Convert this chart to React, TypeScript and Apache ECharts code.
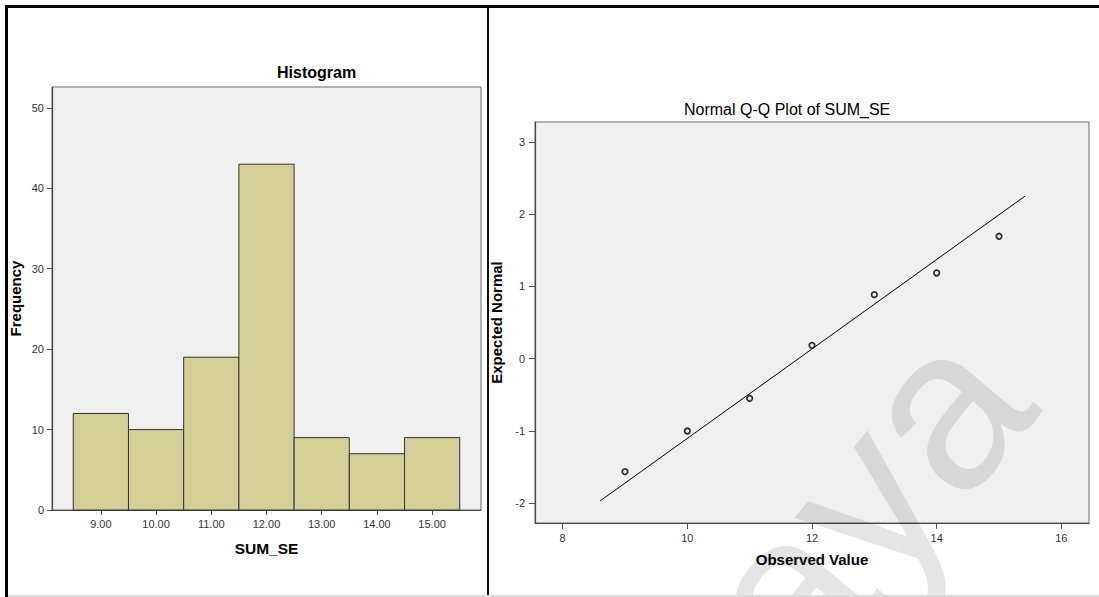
import React, { useEffect, useRef } from "react";
import * as echarts from "echarts";

// ---- Histogram data ----
const binCenters = [9, 10, 11, 12, 13, 14, 15];
const frequencies = [12, 10, 19, 43, 9, 7, 9];
const binWidth = 1;
const histXTicks = [9, 10, 11, 12, 13, 14, 15];
const histYTicks = [0, 10, 20, 30, 40, 50];

// ---- Normal Q-Q data ----
const observedValues = [9, 10, 11, 12, 13, 14, 15];
const expectedNormal = [-1.565, -1.003, -0.55, 0.184, 0.886, 1.186, 1.694];
const refLineX = [8.6, 15.42];
const refLineY = [-1.972, 2.252];
const qqXTicks = [8, 10, 12, 14, 16];
const qqYTicks = [-2, -1, 0, 1, 2, 3];

const FONT = '"Liberation Sans", Arial, sans-serif';

export default function App() {
  const ref = useRef<HTMLDivElement>(null);

  useEffect(() => {
    if (!ref.current) return;
    const chart = echarts.init(ref.current, undefined, { renderer: "svg" });

    const axisCommon = {
      type: "value" as const,
      axisLine: { show: true, onZero: false, lineStyle: { color: "#4a4a4a", width: 1.2 } },
      splitLine: { show: false },
      nameLocation: "middle" as const,
      nameTextStyle: { fontFamily: FONT, fontWeight: "bold", fontSize: 15, color: "#000" },
    };
    const tick = (vals: number[], len: number) => ({
      show: true,
      length: len,
      customValues: vals,
      lineStyle: { color: "#4a4a4a", width: 1 },
    });
    const label = (vals: number[], margin: number, fmt?: (v: number) => string) => ({
      show: true,
      customValues: vals,
      margin,
      fontFamily: FONT,
      fontSize: 11,
      color: "#333",
      formatter: fmt ? (v: number) => fmt(v) : undefined,
    });

    const option: any = {
      animation: false,
      backgroundColor: "#fff",
      title: [
        {
          text: "Histogram",
          left: 277,
          top: 64,
          padding: 0,
          textStyle: { fontFamily: FONT, fontWeight: "bold", fontSize: 16, color: "#000" },
        },
        {
          text: "Normal Q-Q Plot of SUM_SE",
          left: 684,
          top: 101,
          padding: 0,
          textStyle: { fontFamily: FONT, fontWeight: "normal", fontSize: 16, color: "#000" },
        },
      ],
      grid: [
        {
          left: 52,
          top: 87,
          width: 429,
          height: 423,
          show: true,
          backgroundColor: "#f0f0f0",
          borderColor: "#6a6a6a",
          borderWidth: 1,
        },
        {
          left: 535,
          top: 122,
          width: 554,
          height: 401,
          show: true,
          backgroundColor: "#f0f0f0",
          borderColor: "#6a6a6a",
          borderWidth: 1,
        },
      ],
      xAxis: [
        {
          ...axisCommon,
          gridIndex: 0,
          min: 8.115,
          max: 15.885,
          axisTick: tick(histXTicks, 5),
          axisLabel: label(histXTicks, 8, (v) => v.toFixed(2)),
          name: "SUM_SE",
          nameGap: 30,
          nameTextStyle: { ...axisCommon.nameTextStyle, fontSize: 15.5 },
        },
        {
          ...axisCommon,
          gridIndex: 1,
          min: 7.556,
          max: 16.444,
          axisTick: tick(qqXTicks, 6),
          axisLabel: label(qqXTicks, 9),
          name: "Observed Value",
          nameGap: 29,
        },
      ],
      yAxis: [
        {
          ...axisCommon,
          gridIndex: 0,
          min: 0,
          max: 52.6,
          axisTick: tick(histYTicks, 5),
          axisLabel: label(histYTicks, 8),
          name: "Frequency",
          nameRotate: 90,
          nameGap: 29,
        },
        {
          ...axisCommon,
          gridIndex: 1,
          min: -2.277,
          max: 3.277,
          axisTick: tick(qqYTicks, 6),
          axisLabel: label(qqYTicks, 10),
          name: "Expected Normal",
          nameRotate: 90,
          nameGap: 27,
        },
      ],
      graphic: [
        {
          type: "text",
          x: 744,
          y: 643,
          rotation: (50 * Math.PI) / 180,
          z: 1,
          silent: true,
          style: {
            text: "Malaya",
            fontFamily: FONT,
            fontSize: 230,
            fill: "rgba(0,0,0,0.1)",
            align: "center",
            verticalAlign: "middle",
            textAlign: "center",
            textVerticalAlign: "middle",
          },
        },
        // outer frame
        { type: "rect", z: 100, shape: { x: 5, y: 5, width: 1094, height: 3 }, style: { fill: "#000" } },
        { type: "rect", z: 100, shape: { x: 5, y: 5, width: 3, height: 592 }, style: { fill: "#000" } },
        { type: "rect", z: 100, shape: { x: 487, y: 8, width: 2, height: 589 }, style: { fill: "#111" } },
        { type: "rect", z: 100, shape: { x: 8, y: 595, width: 1091, height: 2 }, style: { fill: "#dcdcdc" } },
      ],
      series: [
        {
          type: "custom",
          xAxisIndex: 0,
          yAxisIndex: 0,
          data: binCenters.map((c, i) => [c, frequencies[i]]),
          renderItem: (params: any, api: any) => {
            const c = api.value(0);
            const f = api.value(1);
            const p0 = api.coord([c - binWidth / 2, f]);
            const p1 = api.coord([c + binWidth / 2, 0]);
            return {
              type: "rect",
              shape: { x: p0[0], y: p0[1], width: p1[0] - p0[0], height: p1[1] - p0[1] },
              style: { fill: "#d4cf97", stroke: "#333", lineWidth: 1 },
            };
          },
        },
        {
          type: "line",
          xAxisIndex: 1,
          yAxisIndex: 1,
          data: refLineX.map((x, i) => [x, refLineY[i]]),
          symbol: "none",
          lineStyle: { color: "#000", width: 1 },
          z: 3,
        },
        {
          type: "scatter",
          xAxisIndex: 1,
          yAxisIndex: 1,
          data: observedValues.map((x, i) => [x, expectedNormal[i]]),
          symbol: "circle",
          symbolSize: 5.5,
          itemStyle: { color: "#f0f0f0", borderColor: "#000", borderWidth: 1.8 },
          z: 4,
        },
      ],
    };

    chart.setOption(option);
    return () => chart.dispose();
  }, []);

  return (
    <div
      ref={ref}
      style={{ position: "absolute", left: 0, top: 0, width: 1099, height: 597, background: "#fff" }}
    />
  );
}
